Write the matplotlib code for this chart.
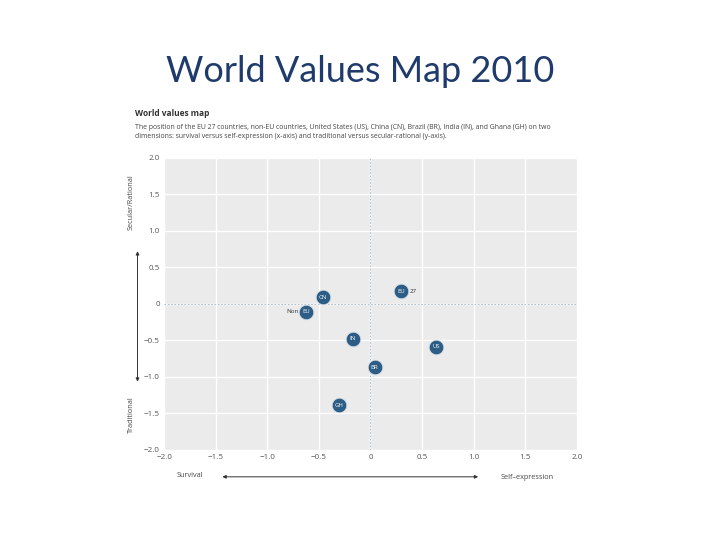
import matplotlib
matplotlib.use("Agg")
import matplotlib.pyplot as plt

# positions
codes = ["EU", "CN", "EU", "IN", "US", "BR", "GH"]
x_vals = [0.30, -0.46, -0.62, -0.17, 0.64, 0.04, -0.30]
y_vals = [0.17, 0.09, -0.11, -0.48, -0.59, -0.87, -1.39]
prefix = ["", "", "Non", "", "", "", ""]
suffix = ["27", "", "", "", "", "", ""]

ticks = [-2.0, -1.5, -1.0, -0.5, 0, 0.5, 1.0, 1.5, 2.0]
tick_labels = ["\u22122.0", "\u22121.5", "\u22121.0", "\u22120.5", "0", "0.5", "1.0", "1.5", "2.0"]

title = "World Values Map 2010"
chart_title = "World values map"
subtitle = ("The position of the EU 27 countries, non-EU countries, United States (US), China (CN), Brazil (BR), India (IN), and Ghana (GH) on two\n"
            "dimensions: survival versus self-expression (x-axis) and traditional versus secular-rational (y-axis).")

plt.rcParams['font.family'] = ['Open Sans', 'DejaVu Sans']

fig = plt.figure(figsize=(7.2, 5.4), dpi=100)
ax = fig.add_axes([0.228, 0.167, 0.573, 0.541])

ax.set_facecolor("#ebebeb")
ax.set_xlim(-2, 2)
ax.set_ylim(-2, 2)
ax.set_xticks(ticks)
ax.set_yticks(ticks)
ax.set_xticklabels(tick_labels)
ax.set_yticklabels(tick_labels)
ax.tick_params(length=0, labelsize=5.8, labelcolor="#555555", pad=3)
ax.grid(color="white", linewidth=1.0)
ax.set_axisbelow(True)
for s in ax.spines.values():
    s.set_visible(False)
ax.axhline(0, color="#9fb2c2", linestyle=(0, (2, 2)), linewidth=0.6, zorder=1)
ax.axvline(0, color="#9fb2c2", linestyle=(0, (2, 2)), linewidth=0.6, zorder=1)

ax.scatter(x_vals, y_vals, s=110, color="#2d5c84", edgecolors="#cfdbe5", linewidths=0.6, zorder=3)
for i in range(len(codes)):
    ax.text(x_vals[i], y_vals[i], codes[i], ha="center", va="center", fontsize=4.3, color="white", zorder=4)
    if prefix[i]:
        ax.annotate(prefix[i], (x_vals[i], y_vals[i]), xytext=(-6, 0), textcoords="offset points",
                    ha="right", va="center", fontsize=4.5, color="#333333")
    if suffix[i]:
        ax.annotate(suffix[i], (x_vals[i], y_vals[i]), xytext=(6, 0), textcoords="offset points",
                    ha="left", va="center", fontsize=4.5, color="#333333")

# slide title
fig.text(0.5, 0.868, title, ha="center", va="center", fontsize=26, color="#1f3b6b", family=["Lato", "DejaVu Sans"])

# chart heading
fig.text(0.188, 0.79, chart_title, ha="left", va="center", fontsize=6, fontweight="bold", color="#333333")
fig.text(0.188, 0.755, subtitle, ha="left", va="center", fontsize=4.95, color="#444444", linespacing=1.45)

# axis labels with arrows
arrow = dict(arrowstyle="<|-|>", color="#333333", lw=0.7, mutation_scale=5)
fig.text(0.182, 0.625, "Secular/Rational", rotation=90, ha="center", va="center", fontsize=5.2, color="#444444")
fig.text(0.182, 0.232, "Traditional", rotation=90, ha="center", va="center", fontsize=5.2, color="#444444")
ax.annotate("", xy=(0.191, 0.54), xytext=(0.191, 0.288), xycoords="figure fraction",
            textcoords="figure fraction", arrowprops=arrow, annotation_clip=False)
fig.text(0.264, 0.12, "Survival", ha="center", va="center", fontsize=5.2, color="#444444")
fig.text(0.732, 0.115, "Self\u2013expression", ha="center", va="center", fontsize=5.2, color="#444444")
ax.annotate("", xy=(0.305, 0.117), xytext=(0.668, 0.117), xycoords="figure fraction",
            textcoords="figure fraction", arrowprops=arrow, annotation_clip=False)

fig.savefig("out.png", dpi=100)
